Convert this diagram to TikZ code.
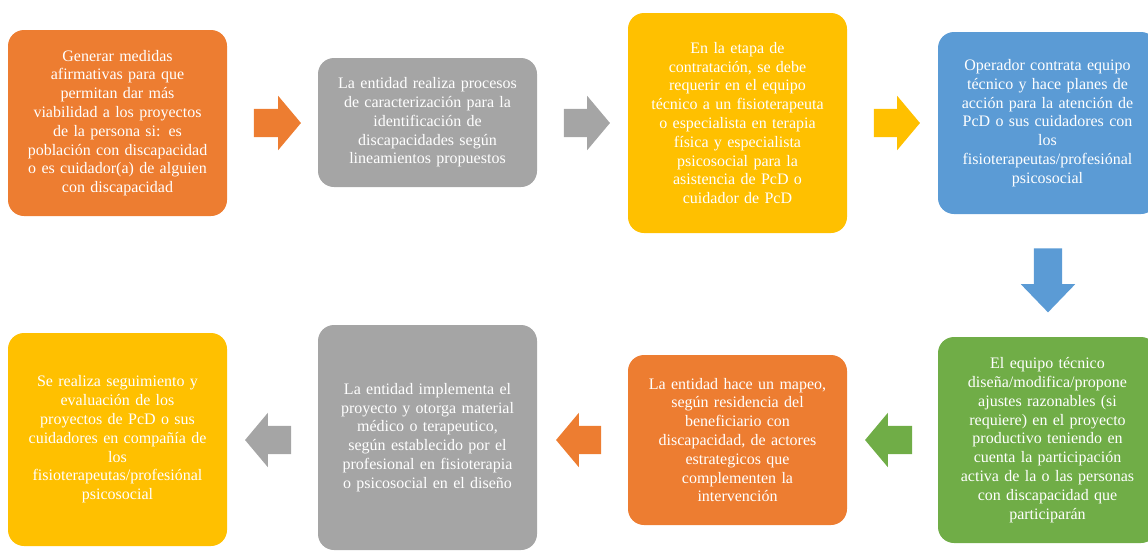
\documentclass[tikz,border=0pt]{standalone}
\usepackage{fontspec}
\setmainfont{Liberation Serif}
\usetikzlibrary{shapes.arrows}
\definecolor{cOrange}{HTML}{ED7D31}
\definecolor{cGray}{HTML}{A5A5A5}
\definecolor{cYellow}{HTML}{FFC000}
\definecolor{cBlue}{HTML}{5B9BD5}
\definecolor{cGreen}{HTML}{70AD47}
\tikzset{
  stepbox/.style={rectangle, rounded corners=16pt, minimum width=219pt, inner sep=0pt,
    text width=217pt, align=center, text=white,
    font=\fontsize{16}{18.8}\selectfont},
  blockarrow/.style={single arrow, minimum width=54pt, single arrow head extend=13pt,
    inner xsep=0pt, inner ysep=14pt, single arrow tip angle=100, draw=none},
  vblockarrow/.style={single arrow, minimum width=54pt, single arrow head extend=13pt,
    inner xsep=14pt, inner ysep=0pt, single arrow tip angle=88, draw=none},
}
\begin{document}
\begin{tikzpicture}[x=1pt,y=-1pt]
\useasboundingbox (0,0) rectangle (1148,550);
% boxes
\node[stepbox, fill=cOrange, minimum height=186pt] (b1) at (117.5,123) {Generar medidas\\afirmativas para que\\permitan dar más\\viabilidad a los proyectos\\de la persona si: es\\población con discapacidad\\o es cuidador(a) de alguien\\con discapacidad};
\node[stepbox, fill=cGray, minimum height=129pt] (b2) at (427.5,122.5) {La entidad realiza procesos\\de caracterización para la\\identificación de\\discapacidades según\\lineamientos propuestos};
\node[stepbox, fill=cYellow, minimum height=220pt] (b3) at (737.5,123) {En la etapa de\\contratación, se debe\\requerir en el equipo\\técnico a un fisioterapeuta\\o especialista en terapia\\física y especialista\\psicosocial para la\\asistencia de PcD o\\cuidador de PcD};
\node[stepbox, fill=cBlue, minimum height=182pt] (b4) at (1047.5,123) {Operador contrata equipo\\técnico y hace planes de\\acción para la atención de\\PcD o sus cuidadores con\\los\\fisioterapeutas/profesiónal\\psicosocial};
\node[stepbox, fill=cGreen, minimum height=206pt] (b5) at (1047.5,440) {El equipo técnico\\diseña/modifica/propone\\ajustes razonables (si\\requiere) en el proyecto\\productivo teniendo en\\cuenta la participación\\activa de la o las personas\\con discapacidad que\\participarán};
\node[stepbox, fill=cOrange, minimum height=170pt] (b6) at (737.5,440) {La entidad hace un mapeo,\\según residencia del\\beneficiario con\\discapacidad, de actores\\estrategicos que\\complementen la\\intervención};
\node[stepbox, fill=cGray, minimum height=225pt] (b7) at (427.5,437.5) {La entidad implementa el\\proyecto y otorga material\\médico o terapeutico,\\según establecido por el\\profesional en fisioterapia\\o psicosocial en el diseño};
\node[stepbox, fill=cYellow, minimum height=213pt] (b8) at (117.5,439.5) {Se realiza seguimiento y\\evaluación de los\\proyectos de PcD o sus\\cuidadores en compañía de\\los\\fisioterapeutas/profesiónal\\psicosocial};
% arrows
\node[blockarrow, fill=cOrange, minimum height=47pt] (a1) at (271.5,123) {};
\node[blockarrow, fill=cGray, minimum height=46pt] (a2) at (581,123) {};
\node[blockarrow, fill=cYellow, minimum height=46pt] (a3) at (891,123) {};
\node[vblockarrow, fill=cBlue, minimum height=64pt, shape border rotate=270] (a4) at (1048,273) {};
\node[blockarrow, fill=cGreen, minimum height=47pt, shape border rotate=180] (a5) at (894.5,440) {};
\node[blockarrow, fill=cOrange, minimum height=45pt, shape border rotate=180] (a6) at (584.5,440) {};
\node[blockarrow, fill=cGray, minimum height=46pt, shape border rotate=180] (a7) at (274,440) {};
\end{tikzpicture}
\end{document}
